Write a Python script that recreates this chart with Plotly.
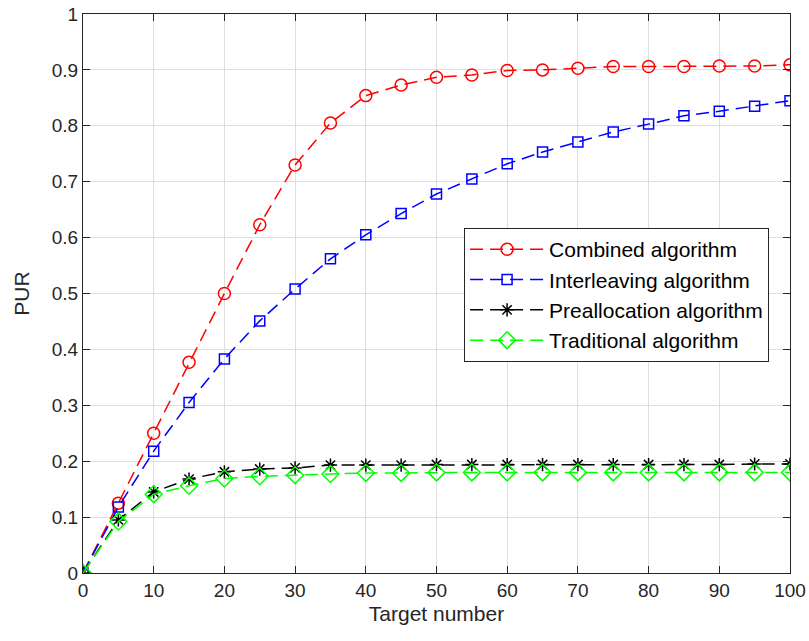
import plotly.graph_objects as go

target = [0, 5, 10, 15, 20, 25, 30, 35, 40, 45, 50, 55, 60, 65, 70, 75, 80, 85, 90, 95, 100]
combined = [0, 0.125, 0.25, 0.377, 0.5, 0.623, 0.73, 0.805, 0.854, 0.873, 0.887, 0.891, 0.899,
            0.900, 0.903, 0.906, 0.906, 0.906, 0.907, 0.907, 0.909]
interleaving = [0, 0.118, 0.218, 0.305, 0.383, 0.451, 0.508, 0.562, 0.605, 0.643, 0.678, 0.705,
                0.732, 0.753, 0.771, 0.789, 0.803, 0.818, 0.826, 0.835, 0.845]
preallocation = [0, 0.095, 0.145, 0.168, 0.181, 0.186, 0.188, 0.193, 0.193, 0.193, 0.194, 0.194,
                 0.194, 0.194, 0.194, 0.194, 0.194, 0.194, 0.194, 0.195, 0.195]
traditional = [0, 0.092, 0.141, 0.156, 0.169, 0.173, 0.175, 0.177, 0.179, 0.179, 0.180, 0.180,
               0.180, 0.180, 0.180, 0.180, 0.180, 0.180, 0.180, 0.180, 0.180]

names = ["Combined algorithm", "Interleaving algorithm", "Preallocation algorithm", "Traditional algorithm"]
series = [combined, interleaving, preallocation, traditional]
colors = ["#ff0000", "#0000ff", "#000000", "#00ff00"]
symbols = ["circle-open", "square-open", "asterisk-open", "diamond-open"]
sizes = [12, 10, 11, 13]

FONT = "Liberation Sans, Arial, sans-serif"
AX = "#262626"

fig = go.Figure()
for name, ys, c, s, sz in zip(names, series, colors, symbols, sizes):
    fig.add_trace(go.Scatter(
        x=target, y=ys, name=name, mode="lines+markers",
        line=dict(color=c, width=1.5, dash="13px,7px"),
        marker=dict(symbol=s, size=sz, color=c, line=dict(color=c, width=1.5)),
    ))

axis_common = dict(
    showline=True, linecolor=AX, linewidth=1, mirror="ticks",
    ticks="inside", ticklen=7, tickcolor=AX, tickwidth=1,
    showgrid=True, gridcolor="#dedede", gridwidth=1, zeroline=False,
    tickfont=dict(family=FONT, size=19, color=AX),
    automargin=False, ticklabeloverflow="allow",
)

fig.update_xaxes(range=[0, 100], tickvals=list(range(0, 101, 10)),
                 title=dict(text="Target number", font=dict(family=FONT, size=21, color=AX), standoff=6),
                 **axis_common)
fig.update_yaxes(range=[0, 1], tickvals=[i / 10 for i in range(11)],
                 ticktext=["0", "0.1", "0.2", "0.3", "0.4", "0.5", "0.6", "0.7", "0.8", "0.9", "1"],
                 title=dict(text="PUR", font=dict(family=FONT, size=21, color=AX), standoff=16),
                 **axis_common)

fig.update_layout(
    width=809, height=641,
    margin=dict(l=83, r=19, t=14, b=68),
    paper_bgcolor="white", plot_bgcolor="white",
    font=dict(family=FONT, size=19, color=AX),
    legend=dict(x=0.539, y=0.617, xanchor="left", yanchor="top",
                bgcolor="white", bordercolor=AX, borderwidth=1,
                font=dict(family=FONT, size=21, color="#000000"),
                itemwidth=74, tracegroupgap=0),
    showlegend=True,
)

# remove the browser's default 8px body margin so the figure fills the window exactly
fig.write_html("out.html", config={"displayModeBar": False},
               post_script="document.body.style.margin='0';")
